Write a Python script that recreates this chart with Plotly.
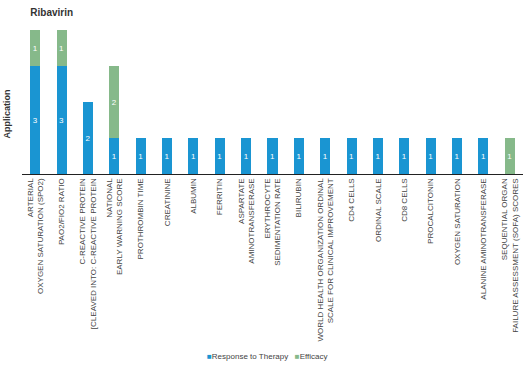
import plotly.graph_objects as go

categories = [
    "ARTERIAL<br>OXYGEN SATURATION (SPO2)",
    "PAO2/FIO2 RATIO",
    "C-REACTIVE PROTEIN<br>[CLEAVED INTO: C-REACTIVE PROTEIN",
    "NATIONAL<br>EARLY WARNING SCORE",
    "PROTHROMBIN TIME",
    "CREATININE",
    "ALBUMIN",
    "FERRITIN",
    "ASPARTATE<br>AMINOTRANSFERASE",
    "ERYTHROCYTE<br>SEDIMENTATION RATE",
    "BILIRUBIN",
    "WORLD HEALTH ORGANIZATION ORDINAL<br>SCALE FOR CLINICAL IMPROVEMENT",
    "CD4 CELLS",
    "ORDINAL SCALE",
    "CD8 CELLS",
    "PROCALCITONIN",
    "OXYGEN SATURATION",
    "ALANINE AMINOTRANSFERASE",
    "SEQUENTIAL ORGAN<br>FAILURE ASSESSMENT (SOFA) SCORES",
]
response = [3, 3, 2, 1, 1, 1, 1, 1, 1, 1, 1, 1, 1, 1, 1, 1, 1, 1, 0]
efficacy = [1, 1, 0, 2, 0, 0, 0, 0, 0, 0, 0, 0, 0, 0, 0, 0, 0, 0, 1]
series_names = ["Response to Therapy", "Efficacy"]

BLUE = "#1a95d2"
GREEN = "#86b98a"

def txt(vals):
    return [str(v) if v else "" for v in vals]

fig = go.Figure()
for name, vals, col in [(series_names[0], response, BLUE), (series_names[1], efficacy, GREEN)]:
    fig.add_trace(go.Bar(
        x=categories, y=[v if v else None for v in vals], name=name,
        marker=dict(color=col, line=dict(width=0)),
        text=txt(vals), textposition="inside", insidetextanchor="middle",
        textfont=dict(color="white", size=8), showlegend=False,
    ))

legend_text = (
    f"<span style='color:{BLUE}'>■</span>{series_names[0]}   "
    f"<span style='color:{GREEN}'>■</span>{series_names[1]}"
)
fig.add_annotation(
    text=legend_text, xref="paper", yref="paper", x=0.49, y=-1.27,
    xanchor="center", yanchor="middle", showarrow=False,
    font=dict(size=8, color="#444"),
)
fig.add_annotation(
    text="<b>Application</b>", xref="paper", yref="paper", x=-0.03, y=0.42,
    xanchor="center", yanchor="middle", showarrow=False, textangle=-90,
    font=dict(size=9, color="#333"),
)

fig.update_layout(
    barmode="stack",
    bargap=0.62,
    width=532, height=367,
    margin=dict(l=22, r=9, t=30, b=193),
    paper_bgcolor="white", plot_bgcolor="white",
    font=dict(family="Liberation Sans, Arial, sans-serif", color="#444", size=8),
    title=dict(text="<b>Ribavirin</b>", x=0.057, xanchor="left", y=0.967, yanchor="middle",
               font=dict(size=10, color="#333")),
    showlegend=False,
    uniformtext=dict(minsize=7, mode="show"),
)
fig.update_xaxes(
    tickangle=-90, showline=True, linecolor="#222", linewidth=1.2,
    ticks="", showgrid=False, tickfont=dict(size=8, color="#444"),
    automargin=False,
)
fig.update_yaxes(
    range=[0, 4], showticklabels=False, showgrid=False, zeroline=False, ticks="",
    automargin=False,
)

fig.write_html("out.html", config={"displayModeBar": False},
               post_script="document.body.style.margin='0';")
